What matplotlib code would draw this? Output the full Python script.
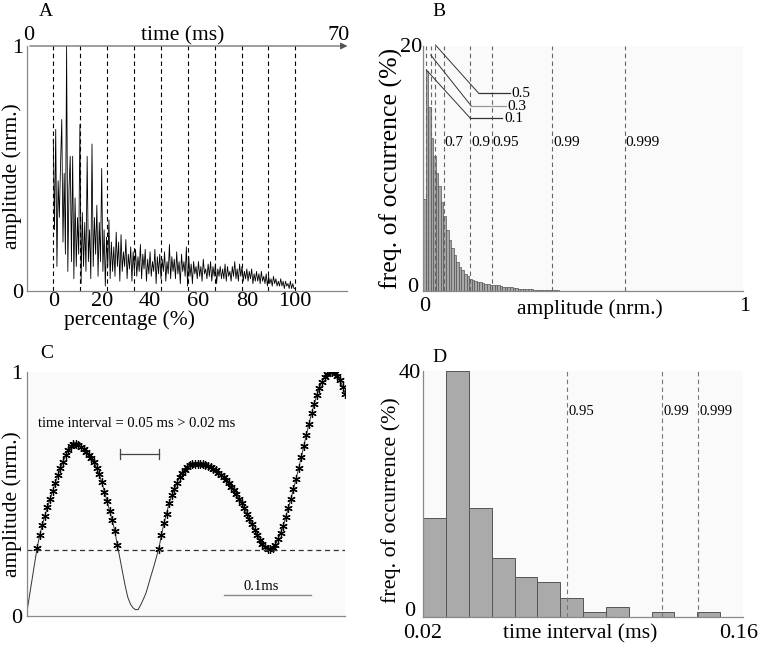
import numpy as np
import matplotlib.pyplot as plt

plt.rcParams['font.family'] = ['Liberation Serif', 'DejaVu Serif']

# --- panel A: normalised amplitude, sampled every 0.5 % of the event
amp_a = [0.62, 0.25, 0.66, 0.10, 0.45, 0.30, 0.52, 0.70, 0.20, 0.48,
         0.15, 1.00, 0.08, 0.42, 0.55, 0.12, 0.55, 0.05, 0.38, 0.10,
         0.30, 0.15, 0.68, 0.03, 0.32, 0.10, 0.28, 0.08, 0.55, 0.12,
         0.25, 0.05, 0.60, 0.10, 0.30, 0.15, 0.35, 0.06, 0.28, 0.12,
         0.50, 0.08, 0.25, 0.02, 0.22, 0.10, 0.29, 0.05, 0.20, 0.08,
         0.18, 0.06, 0.24, 0.10, 0.20, 0.04, 0.23, 0.08, 0.16, 0.10,
         0.21, 0.05, 0.15, 0.09, 0.18, 0.04, 0.16, 0.08, 0.17, 0.06,
         0.14, 0.08, 0.19, 0.05, 0.15, 0.09, 0.17, 0.04, 0.13, 0.07,
         0.16, 0.06, 0.12, 0.08, 0.17, 0.03, 0.14, 0.07, 0.15, 0.05,
         0.13, 0.08, 0.16, 0.04, 0.12, 0.07, 0.19, 0.05, 0.14, 0.08,
         0.13, 0.05, 0.16, 0.07, 0.12, 0.03, 0.15, 0.08, 0.12, 0.06,
         0.18, 0.02, 0.14, 0.06, 0.11, 0.03, 0.12, 0.07, 0.10, 0.05,
         0.12, 0.06, 0.10, 0.04, 0.13, 0.07, 0.09, 0.05, 0.11, 0.06,
         0.12, 0.04, 0.10, 0.06, 0.11, 0.03, 0.09, 0.06, 0.10, 0.05,
         0.09, 0.05, 0.11, 0.04, 0.10, 0.06, 0.08, 0.04, 0.10, 0.06,
         0.12, 0.05, 0.09, 0.04, 0.11, 0.06, 0.10, 0.04, 0.08, 0.05,
         0.09, 0.04, 0.08, 0.05, 0.09, 0.03, 0.07, 0.04, 0.08, 0.04,
         0.07, 0.03, 0.08, 0.04, 0.06, 0.03, 0.07, 0.02, 0.06, 0.03,
         0.05, 0.02, 0.06, 0.03, 0.05, 0.02, 0.04, 0.02, 0.05, 0.02,
         0.04, 0.01, 0.04, 0.02, 0.03, 0.01, 0.04, 0.01, 0.03, 0.01,
         0.01]
a_step = 0.5
a_marks = [0, 11.1, 22.2, 33.3, 44.4, 55.6, 66.7, 77.8, 88.9, 100]

# --- panel B: amplitude histogram (bin 0.008)
b_width = 0.008
b_freq = [7.5, 18.0, 15.0, 12.5, 11.0, 9.6, 8.6, 7.3, 6.1, 5.0,
          4.2, 3.5, 2.9, 2.4, 2.0, 1.7, 1.4, 1.2, 1.0, 0.9,
          0.8, 0.75, 0.7, 0.65, 0.6, 0.55, 0.5, 0.5, 0.45, 0.45,
          0.4, 0.35, 0.35, 0.3, 0.3, 0.25, 0.25, 0.2, 0.2, 0.2,
          0.15, 0.15, 0.15, 0.1, 0.1, 0.1, 0.1, 0.08, 0.08, 0.06,
          0.06, 0.05, 0.05, 0.04, 0.04, 0.03, 0.03, 0.02, 0.02, 0.02]
b_pct = [0.1, 0.3, 0.5, 0.7, 0.9, 0.95, 0.99, 0.999]
b_lines = [0.0106, 0.024, 0.039, 0.066, 0.148, 0.216, 0.404, 0.630]

# --- panel C: signal samples every 0.003 ms
c_step = 0.003
c_amp = [0.011, 0.078, 0.145, 0.212, 0.278, 0.330, 0.372, 0.410, 0.445, 0.478,
         0.512, 0.545, 0.577, 0.605, 0.632, 0.658, 0.680, 0.695, 0.703, 0.706,
         0.700, 0.692, 0.686, 0.672, 0.660, 0.646, 0.632, 0.605, 0.580, 0.548,
         0.510, 0.472, 0.432, 0.393, 0.350, 0.290, 0.236, 0.180, 0.125, 0.078,
         0.050, 0.034, 0.026, 0.026, 0.045, 0.068, 0.092, 0.128, 0.165, 0.200,
         0.238, 0.276, 0.330, 0.380, 0.420, 0.462, 0.494, 0.520, 0.546, 0.568,
         0.588, 0.600, 0.610, 0.617, 0.621, 0.623, 0.624, 0.624, 0.622, 0.619,
         0.614, 0.609, 0.604, 0.597, 0.588, 0.578, 0.568, 0.558, 0.545, 0.530,
         0.515, 0.498, 0.481, 0.462, 0.442, 0.420, 0.398, 0.376, 0.354, 0.332,
         0.312, 0.296, 0.283, 0.276, 0.274, 0.280, 0.292, 0.315, 0.340, 0.367,
         0.405, 0.442, 0.480, 0.520, 0.562, 0.605, 0.650, 0.697, 0.743, 0.788,
         0.830, 0.868, 0.905, 0.935, 0.960, 0.980, 0.993, 1.000, 0.999, 0.994,
         0.985, 0.967, 0.940, 0.910]
c_thresh = 0.27

# --- panel D: time-interval histogram (bin 0.01 ms)
d_edges = [0.02, 0.03, 0.04, 0.05, 0.06, 0.07, 0.08, 0.09, 0.10, 0.11,
           0.12, 0.13, 0.14, 0.15]
d_freq = [16.0, 40.0, 17.6, 9.6, 6.4, 5.6, 3.1, 0.7, 1.5, 0.0, 0.7, 0.0, 0.7, 0.0]
d_pct = [0.95, 0.99, 0.999]
d_lines = [0.0829, 0.1246, 0.1403]

W, H = 760, 646
fig = plt.figure(figsize=(7.6, 6.46), dpi=100)


def box(l, t, r, b):
    return [l / W, 1 - b / H, (r - l) / W, (b - t) / H]


def ftxt(x, y, s, **kw):
    kw.setdefault('ha', 'center')
    kw.setdefault('va', 'center')
    fig.text(x / W, 1 - y / H, s, **kw)


def style(ax, bg):
    ax.set_facecolor(bg)
    for s in ['top', 'right']:
        ax.spines[s].set_visible(False)
    for s in ['left', 'bottom']:
        ax.spines[s].set_color('#888888')
        ax.spines[s].set_linewidth(0.9)
    ax.tick_params(length=0, labelsize=16)


TICK = 16
LAB = 15.5
SMALL = 10.5

# ---------------- A
axA = fig.add_axes(box(27, 46, 347, 291))
style(axA, 'white')
xa = np.arange(len(amp_a)) * a_step
for m in a_marks:
    axA.axvline(m, color='k', ls=(0, (4, 3)), lw=0.8)
axA.plot(xa, amp_a, color='k', lw=0.6)
axA.set_xlim(-10.87, 121.4)
axA.set_ylim(0, 1)
axA.set_xticks([0, 20, 40, 60, 80, 100])
axA.set_yticks([0, 1])
axA.tick_params(axis='x', pad=1)
axA.tick_params(axis='y', pad=3)
axA.annotate('', xy=(1.01, 1), xytext=(0, 1), xycoords='axes fraction',
             arrowprops=dict(arrowstyle='-|>', color='#555555', lw=0.8,
                             mutation_scale=10), annotation_clip=False)
ftxt(46, 12, 'A', fontsize=14)
ftxt(183, 36, 'time (ms)', fontsize=LAB)
ftxt(29, 35, '0', fontsize=TICK)
ftxt(339, 35, '70', fontsize=TICK)
ftxt(130, 320, 'percentage (%)', fontsize=LAB)
ftxt(12, 176, 'amplitude (nrm.)', fontsize=LAB, rotation=90)

# ---------------- B
axB = fig.add_axes(box(423, 46, 743, 291))
style(axB, '#fafafa')
xb = np.arange(len(b_freq)) * b_width
axB.bar(xb, b_freq, width=b_width, align='edge', color='#a8a8a8',
        edgecolor='#555555', lw=0.5)
for v in b_lines:
    axB.plot([v, v], [0, 20], color='#666666', ls=(0, (4, 3)), lw=0.8)
axB.set_xlim(0, 1)
axB.set_ylim(0, 20)
axB.set_xticks([])
axB.set_yticks([])
ftxt(425, 307, '0', fontsize=TICK)
ftxt(745, 307, '1', fontsize=TICK)
ftxt(413, 288, '0', fontsize=TICK)
ftxt(411, 47, '20', fontsize=TICK)
# leader lines for the closely spaced percentiles
leaders = [(0.0106, 18.04, 0.148, 14.1, 0.248, '#333333', '0.1'),
           (0.024, 19.27, 0.151, 15.1, 0.258, '#999999', '0.3'),
           (0.039, 20.08, 0.174, 16.14, 0.271, '#333333', '0.5')]
for x0, y0, x1, y1, x2, col, lab in leaders:
    axB.plot([x0, x1], [y0, y1], color='#333333', lw=0.7, clip_on=False)
    axB.plot([x1, x2], [y1, y1], color=col, lw=0.9)
    axB.text(x2 + 0.006, y1, lab, fontsize=11, va='center', ha='left')
for v, p in zip(b_lines[3:], b_pct[3:]):
    axB.text(v + 0.002, 12.1, str(p), fontsize=SMALL + 0.5, va='center', ha='left')
ftxt(439, 12, 'B', fontsize=14)
ftxt(590, 309, 'amplitude (nrm.)', fontsize=LAB)
ftxt(391, 168, 'freq. of occurrence (%)', fontsize=18.5, rotation=90)

# ---------------- C
axC = fig.add_axes(box(26.7, 372, 345, 616))
style(axC, '#fafafa')
tc = np.arange(len(c_amp)) * c_step
c_arr = np.array(c_amp)
axC.plot(tc, c_arr, color='#333333', lw=0.7)
above = np.where(c_arr >= c_thresh, c_arr, np.nan)
axC.plot(tc, above, ls='none', marker=(6, 2, 0), ms=6, mew=0.9, color='k')
axC.axhline(c_thresh, color='#333333', ls=(0, (4, 3)), lw=0.9)
axC.set_xlim(0, 0.3687)
axC.set_ylim(0, 1)
axC.set_xticks([])
axC.set_yticks([0, 1])
axC.tick_params(axis='y', pad=3)
axC.text(0.0131, 0.787, 'time interval = 0.05 ms > 0.02 ms', fontsize=SMALL,
         va='center', ha='left')
axC.plot([0.108, 0.1536], [0.663, 0.663], color='#444444', lw=0.9)
for xe in [0.108, 0.1536]:
    axC.plot([xe, xe], [0.643, 0.683], color='#444444', lw=0.9)
axC.plot([0.2285, 0.3293], [0.085, 0.085], color='#888888', lw=1.0)
axC.text(0.272, 0.12, '0.1ms', fontsize=SMALL, ha='center', va='center')
ftxt(47, 354, 'C', fontsize=14)
ftxt(12, 504, 'amplitude (nrm.)', fontsize=LAB, rotation=90)

# ---------------- D
axD = fig.add_axes(box(423.3, 370.7, 743, 616.7))
style(axD, '#fafafa')
axD.bar(d_edges, d_freq, width=0.01, align='edge', color='#aaaaaa',
        edgecolor='#555555', lw=0.7)
for v in d_lines:
    axD.plot([v, v], [0, 40], color='#777777', ls=(0, (4, 3)), lw=0.8)
for v, p in zip(d_lines, d_pct):
    axD.text(v + 0.0006, 33.3, str(p), fontsize=SMALL, va='center', ha='left')
axD.set_xlim(0.02, 0.16)
axD.set_ylim(0, 40)
axD.set_xticks([])
axD.set_yticks([])
ftxt(423, 633, '0.02', fontsize=TICK)
ftxt(739, 633, '0.16', fontsize=TICK)
ftxt(410, 611, '0', fontsize=TICK)
ftxt(410, 373, '40', fontsize=TICK)
ftxt(439, 357, 'D', fontsize=14)
ftxt(580, 634, 'time interval (ms)', fontsize=LAB)
ftxt(391, 500, 'freq. of occurrence (%)', fontsize=15.8, rotation=90)

fig.savefig('out.png', dpi=100)
